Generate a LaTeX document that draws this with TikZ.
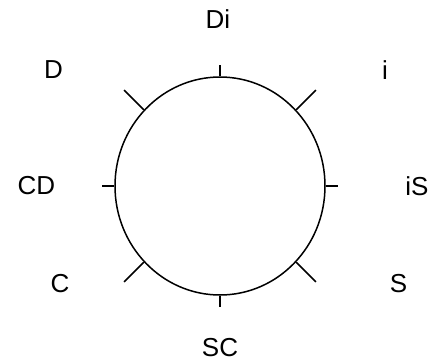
\documentclass[tikz,border=0pt]{standalone}
\usepackage{fontspec}
\setmainfont{Liberation Sans}
\usetikzlibrary{shapes.geometric}
\begin{document}
\begin{tikzpicture}[x=1pt,y=-1pt,
  lbl/.style={font=\fontsize{26}{30}\selectfont, inner sep=0pt},
  tickline/.style={line width=1.5pt},
  ringshape/.style={draw, ellipse, line width=1.5pt, inner sep=0pt, minimum width=210pt, minimum height=218pt}]
\useasboundingbox (0,0) rectangle (434,362);
\node[ringshape] (ring) at (220,186) {};
\draw[tickline] (ring.north) -- ++(0,-11);
\draw[tickline] (ring.south) -- ++(0,11);
\draw[tickline] (ring.west) -- ++(-12,0);
\draw[tickline] (ring.east) -- ++(12,0);
\draw[tickline] (ring.135) -- ++(-19.8,-19.8);
\draw[tickline] (ring.45) -- ++(19.8,-19.8);
\draw[tickline] (ring.225) -- ++(-19.8,19.8);
\draw[tickline] (ring.315) -- ++(19.8,19.8);
\node[lbl] (di) at (218,19.5) {Di};
\node[lbl] (d) at (53.5,70) {D};
\node[lbl] (i) at (385,70) {i};
\node[lbl] (cd) at (36.5,186) {CD};
\node[lbl] (is) at (417,186) {iS};
\node[lbl] (c) at (60,284) {C};
\node[lbl] (s) at (398.5,284) {S};
\node[lbl] (sc) at (220,348) {SC};
\end{tikzpicture}
\end{document}
